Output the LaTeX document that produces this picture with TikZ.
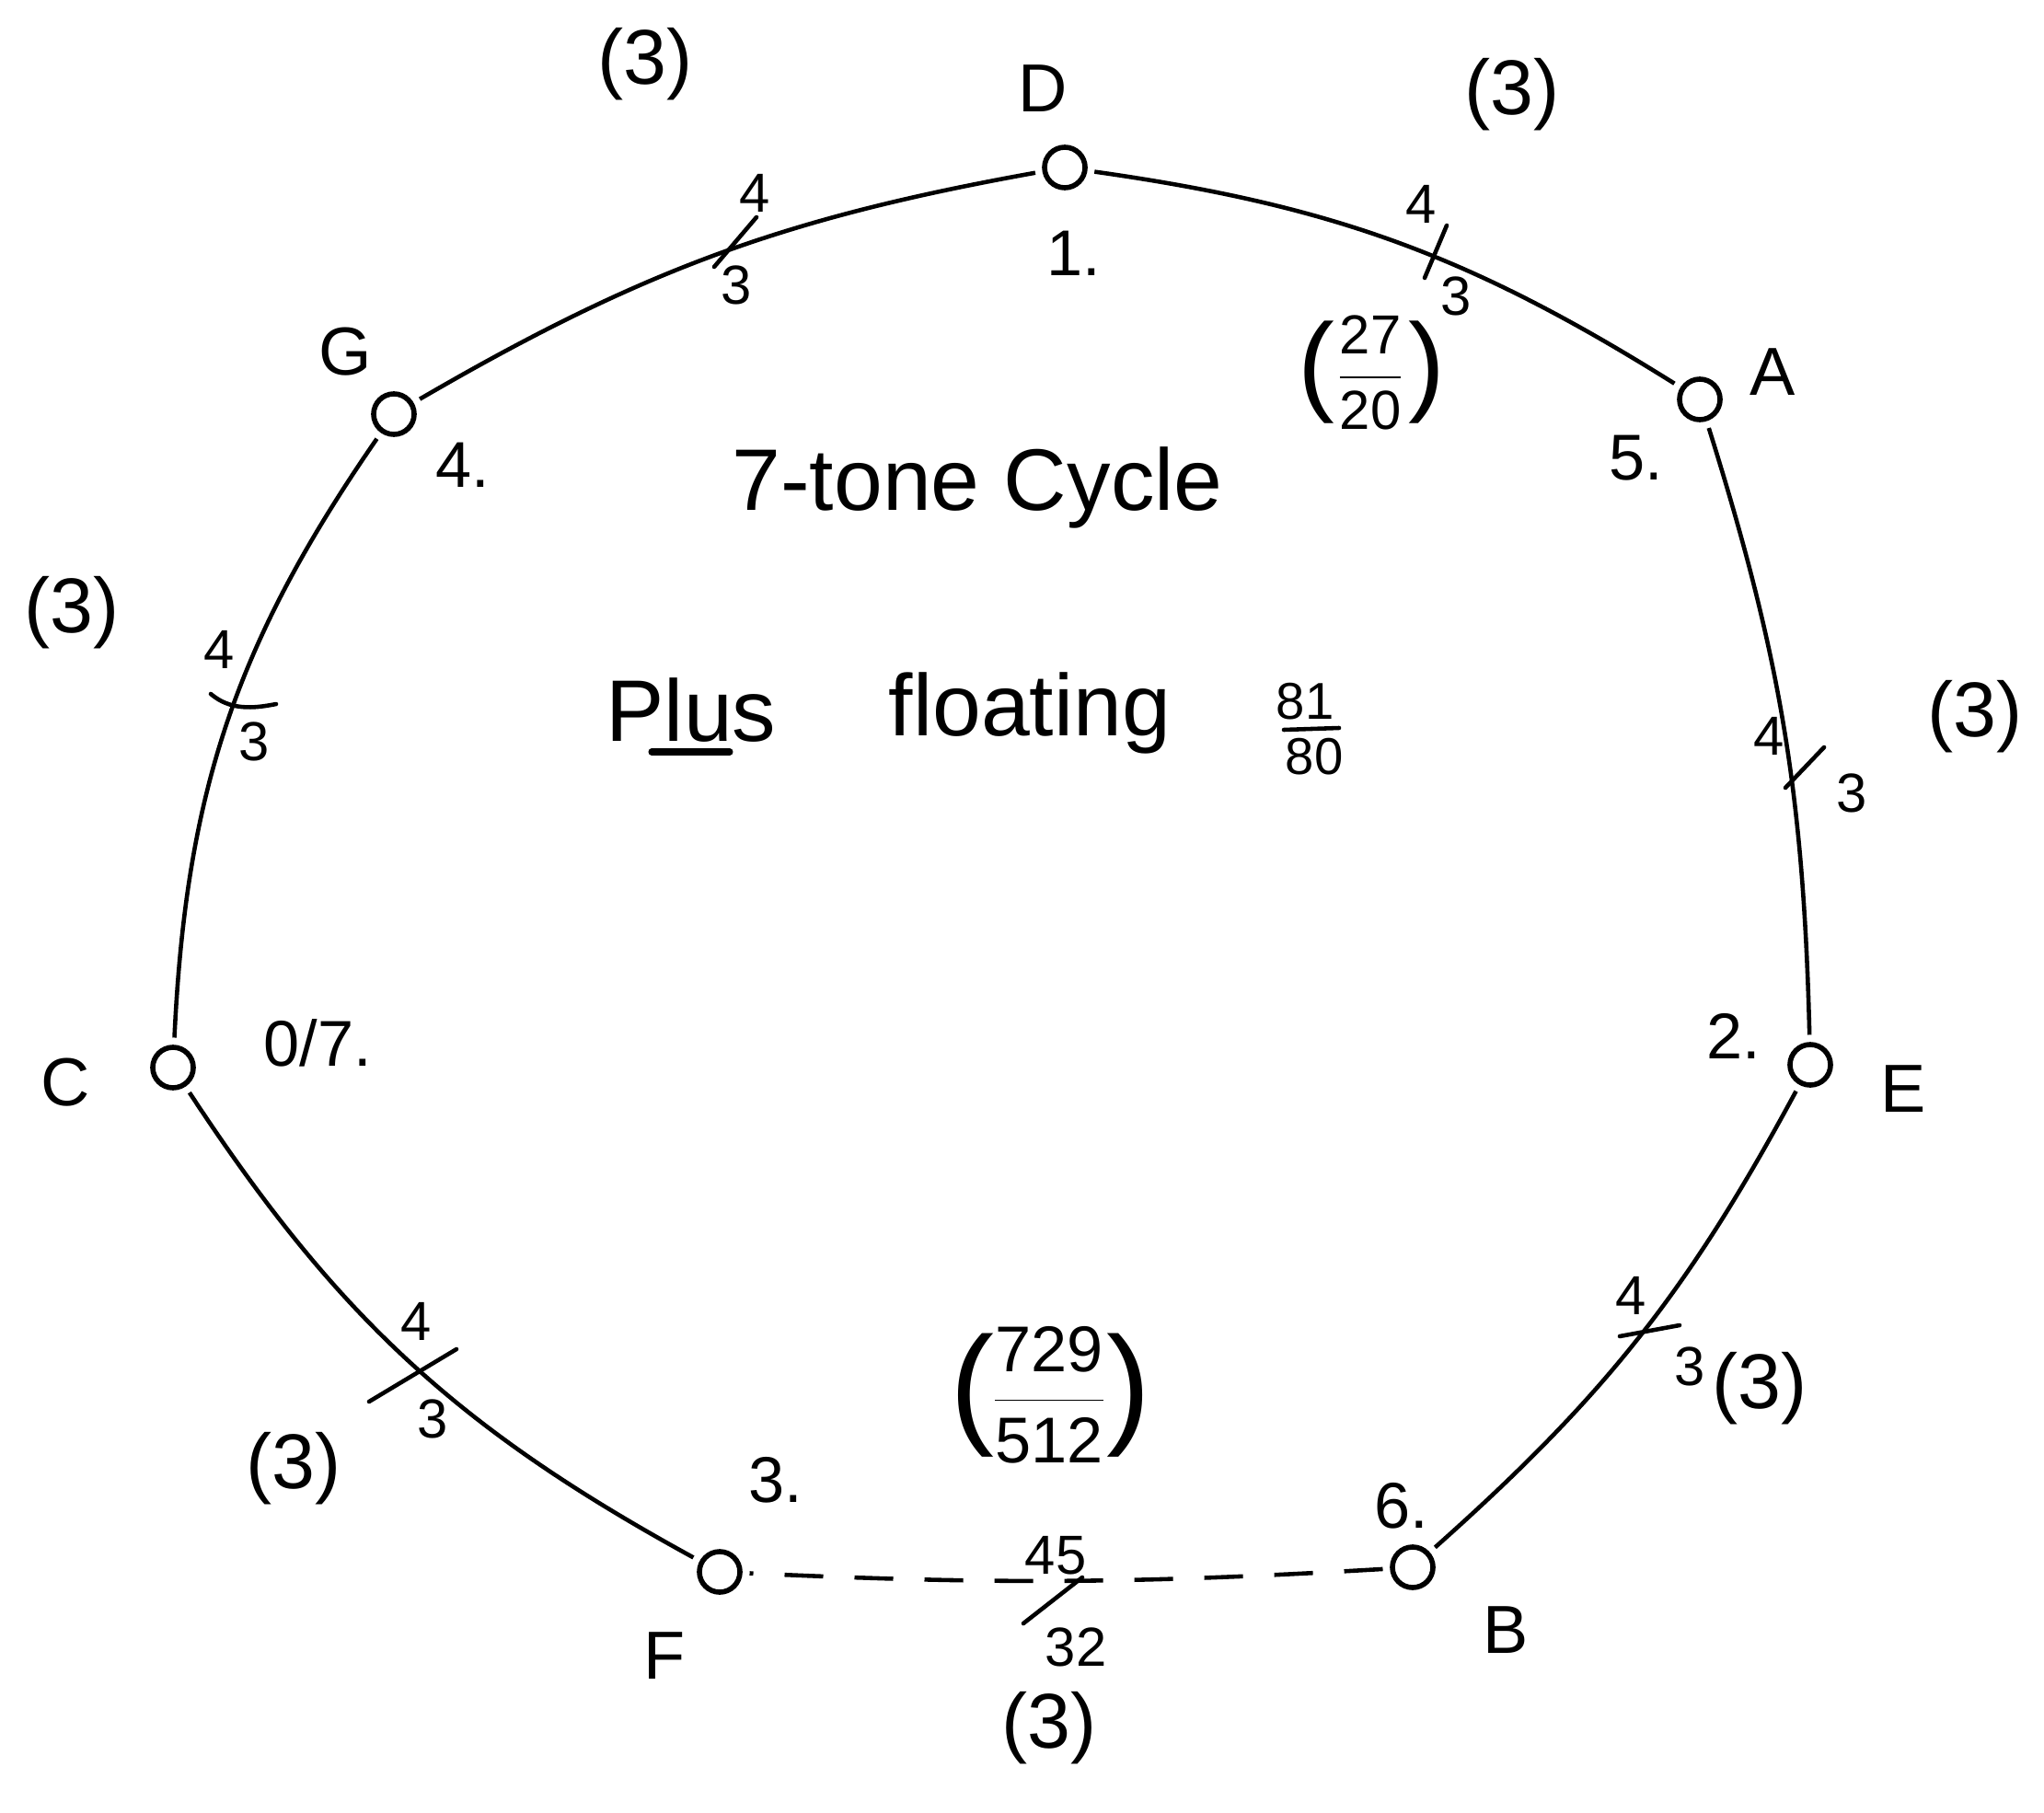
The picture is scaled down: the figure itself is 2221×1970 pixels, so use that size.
\documentclass[tikz,border=0pt]{standalone}
\usepackage{fontspec}
\setmainfont{Liberation Sans}
\begin{document}
\begin{tikzpicture}[x=0.01cm,y=-0.01cm,
  tone/.style={circle,draw,line width=1.6pt,minimum size=0.44cm,inner sep=0pt,outer sep=3pt},
  conn/.style={line width=1.3pt},
  slashmark/.style={line width=1.3pt,line cap=round},
  lbl/.style={font=\fontsize{21}{24}\selectfont,inner sep=0pt},
  ord/.style={font=\fontsize{20}{24}\selectfont,inner sep=0pt},
  dig/.style={font=\fontsize{17}{20}\selectfont,inner sep=0pt},
  three/.style={font=\fontsize{24}{28}\selectfont,inner sep=0pt},
  ratio/.style={font=\fontsize{17}{20}\selectfont,inner sep=0pt},
  bigparen/.style={font=\fontsize{34}{36}\selectfont,inner sep=0pt},
  title/.style={font=\fontsize{27}{30}\selectfont,inner sep=0pt},
]
\useasboundingbox (0,0) rectangle (2221,1970);

% tones
\node[tone] (D) at (1157,182) {};
\node[tone] (A) at (1847,434) {};
\node[tone] (E) at (1967,1157) {};
\node[tone] (B) at (1535,1703) {};
\node[tone] (F) at (782,1708) {};
\node[tone] (C) at (188,1160) {};
\node[tone] (G) at (428,450) {};

% connectors (clockwise, bowing outward)
\draw[conn] (D) to[bend left=12] (A);
\draw[conn] (A) to[bend left=8] (E);
\draw[conn] (E) to[bend left=10] (B);
\draw[conn,dash pattern=on 0.42cm off 0.34cm] (B) to[bend left=3] (F);
\draw[conn] (F) to[bend left=14] (C);
\draw[conn] (C) to[bend left=16] (G);
\draw[conn] (G) to[bend left=10] (D);

% tone letters
\node[lbl] (Dl) at (1133,96) {D};
\node[lbl] (Al) at (1926,404) {A};
\node[lbl] (El) at (2068,1183) {E};
\node[lbl] (Bl) at (1636,1771) {B};
\node[lbl] (Fl) at (722,1799) {F};
\node[lbl] (Cl) at (71,1176) {C};
\node[lbl] (Gl) at (375,382) {G};

% order numbers
\node[ord] (Dn) at (1167,275) {1.};
\node[ord] (An) at (1778,498) {5.};
\node[ord] (En) at (1884,1126) {2.};
\node[ord] (Bn) at (1523,1636) {6.};
\node[ord] (Fn) at (843,1608) {3.};
\node[ord] (Cn) at (345,1133) {0/7.};
\node[ord] (Gn) at (503,505) {4.};

% G-D
\node[dig] (gd4) at (820,210) {4};
\node[dig] (gd3) at (800,310) {3};
\coordinate (gda) at (776,290); \coordinate (gdb) at (822,236);
\draw[slashmark] (gda) -- (gdb);
\node[three] (gd3p) at (701,70) {(3)};

% D-A
\node[dig] (da4) at (1544,222) {4};
\node[dig] (da3) at (1582,322) {3};
\coordinate (daa) at (1548,302); \coordinate (dab) at (1572,245);
\draw[slashmark] (daa) -- (dab);
\node[three] (da3p) at (1643,103) {(3)};
\node[ratio] (daf) at (1489,405) {$\displaystyle\frac{\mbox{27}}{\mbox{20}}$};
\node[bigparen] (dafl) at (1430,405) {(};
\node[bigparen] (dafr) at (1550,405) {)};

% A-E
\node[dig] (ae4) at (1922,800) {4};
\node[dig] (ae3) at (2012,862) {3};
\coordinate (aea) at (1940,856); \coordinate (aeb) at (1982,812);
\draw[slashmark] (aea) -- (aeb);
\node[three] (ae3p) at (2146,779) {(3)};

% E-B
\node[dig] (eb4) at (1772,1408) {4};
\node[dig] (eb3) at (1836,1485) {3};
\coordinate (eba) at (1760,1452); \coordinate (ebb) at (1825,1440);
\draw[slashmark] (eba) -- (ebb);
\node[three] (eb3p) at (1912,1509) {(3)};

% B-F
\node[dig] (bf45) at (1147,1690) {45};
\node[dig] (bf32) at (1169,1790) {32};
\coordinate (bfa) at (1112,1764); \coordinate (bfb) at (1176,1714);
\draw[slashmark] (bfa) -- (bfb);
\node[three] (bf3p) at (1140,1878) {(3)};
\node[font=\fontsize{20}{24}\selectfont,inner sep=0pt] (bff) at (1140,1516) {$\displaystyle\frac{\mbox{729}}{\mbox{512}}$};
\node[bigparen,font=\fontsize{41}{44}\selectfont] (bffl) at (1056,1516) {(};
\node[bigparen,font=\fontsize{41}{44}\selectfont] (bffr) at (1226,1516) {)};

% F-C
\node[dig] (fc4) at (452,1436) {4};
\node[dig] (fc3) at (470,1542) {3};
\coordinate (fca) at (401,1523); \coordinate (fcb) at (496,1466);
\draw[slashmark] (fca) -- (fcb);
\node[three] (fc3p) at (319,1596) {(3)};

% C-G
\node[dig] (cg4) at (238,706) {4};
\node[dig] (cg3) at (276,806) {3};
\coordinate (cga) at (229,754); \coordinate (cgb) at (300,765);
\draw[slashmark] (cga) .. controls (250,772) and (275,770) .. (cgb);
\node[three] (cg3p) at (78,666) {(3)};

% centre text
\node[title] (cyc) at (1062,530) {7-tone Cycle};
\node[title] (plus) at (751,772) {Plus};
\coordinate (ula) at (708,817); \coordinate (ulb) at (793,817);
\draw[slashmark,line width=2pt] (ula) -- (ulb);
\node[title] (flo) at (1119,775) {floating};
\node[font=\fontsize{16}{18}\selectfont,inner sep=0pt] (n81) at (1418,762) {81};
\node[font=\fontsize{16}{18}\selectfont,inner sep=0pt] (n80) at (1428,822) {80};
\coordinate (fba) at (1395,793); \coordinate (fbb) at (1455,791);
\draw[slashmark] (fba) -- (fbb);
\end{tikzpicture}
\end{document}
